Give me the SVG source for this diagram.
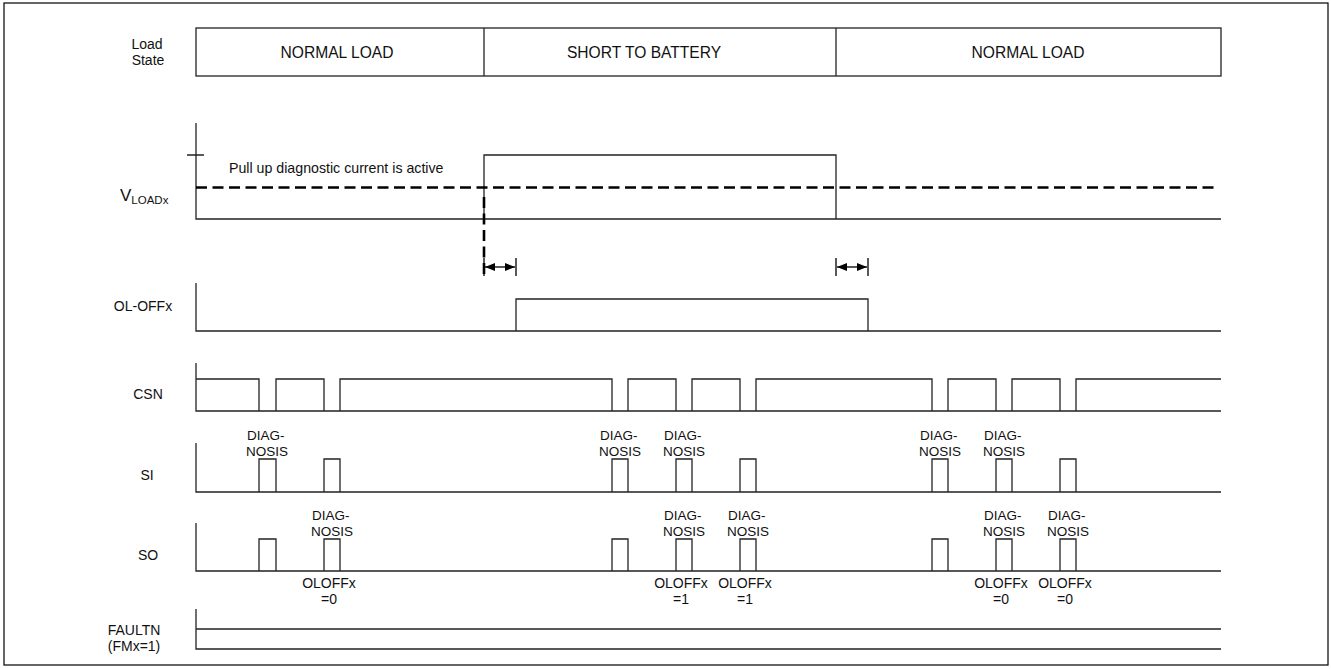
<svg xmlns="http://www.w3.org/2000/svg" width="1331" height="669" viewBox="0 0 1331 669">
<style>
text{font-family:"Liberation Sans",Arial,sans-serif;fill:#111;}
.lbl{font-size:14px;text-anchor:middle;}
.st{font-size:15.6px;text-anchor:middle;}
.sm{font-size:13.5px;}
.ol{font-size:14px;text-anchor:middle;}
.w{fill:none;stroke:#222;stroke-width:1.3;}
.dash{fill:none;stroke:#000;stroke-width:2.6;stroke-dasharray:11 5.5;}
.arr{fill:none;stroke:#000;stroke-width:1.3;}
</style>
<defs>
<marker id="ah" viewBox="0 0 10 8" refX="10" refY="4" markerWidth="10" markerHeight="8" markerUnits="userSpaceOnUse" orient="auto-start-reverse">
<path d="M0,0 L10,4 L0,8 Z" fill="#000"/>
</marker>
</defs>
<rect x="4" y="3" width="1324" height="662" fill="#fff" stroke="#000" stroke-width="1.2"/>

<g id="load-state">
<text class="lbl" x="147" y="49">Load</text>
<text class="lbl" x="148" y="65">State</text>
<rect class="w" x="196" y="28" width="1025" height="48"/>
<line class="w" x1="484" y1="28" x2="484" y2="76"/>
<line class="w" x1="836" y1="28" x2="836" y2="76"/>
<text class="st" x="337" y="58">NORMAL LOAD</text>
<text class="st" x="644" y="58">SHORT TO BATTERY</text>
<text class="st" x="1028" y="58">NORMAL LOAD</text>
</g>

<g id="vload">
<text x="120" y="201" style="font-size:17px">V<tspan style="font-size:11.5px" dy="3">LOADx</tspan></text>
<path class="w" d="M196,123 V219 H1221 M187,155 H204 M484,219 V155 H836 V219"/>
<line class="dash" x1="196" y1="187.5" x2="1217" y2="187.5"/>
<line class="dash" x1="484" y1="197" x2="484" y2="277"/>
<text x="229" y="173" style="font-size:14.2px">Pull up diagnostic current is active</text>
</g>

<g id="ol-off">
<text class="lbl" x="143" y="311">OL-OFFx</text>
<path class="w" d="M196,283 V331 H1221 M196,331 H516 V299 H868 V331"/>
</g>

<g id="csn">
<text class="lbl" x="148" y="399">CSN</text>
<path class="w" d="M196,363 V411 H1221 M196,379 H259 V411 H276 V379 H324 V411 H340 V379 H612 V411 H628 V379 H676 V411 H692 V379 H740 V411 H756 V379 H932 V411 H948 V379 H996 V411 H1012 V379 H1060 V411 H1076 V379 H1221"/>
</g>

<g id="si">
<text class="lbl" x="147" y="480">SI</text>
<path class="w" d="M196,443 V492 H1221 M259,492 V459 H276 V492 M324,492 V459 H340 V492 M612,492 V459 H628 V492 M676,492 V459 H692 V492 M740,492 V459 H756 V492 M932,492 V459 H948 V492 M996,492 V459 H1012 V492 M1060,492 V459 H1076 V492"/>
<text class="sm" x="247" y="440">DIAG-</text><text class="sm" x="246" y="456">NOSIS</text>
<text class="sm" x="600" y="440">DIAG-</text><text class="sm" x="599" y="456">NOSIS</text>
<text class="sm" x="664" y="440">DIAG-</text><text class="sm" x="663" y="456">NOSIS</text>
<text class="sm" x="920" y="440">DIAG-</text><text class="sm" x="919" y="456">NOSIS</text>
<text class="sm" x="984" y="440">DIAG-</text><text class="sm" x="983" y="456">NOSIS</text>
</g>

<g id="so">
<text class="lbl" x="148" y="560">SO</text>
<path class="w" d="M196,523 V571 H1221 M259,571 V539 H276 V571 M324,571 V539 H340 V571 M612,571 V539 H628 V571 M676,571 V539 H692 V571 M740,571 V539 H756 V571 M932,571 V539 H948 V571 M996,571 V539 H1012 V571 M1060,571 V539 H1076 V571"/>
<text class="sm" x="312" y="520">DIAG-</text><text class="sm" x="311" y="536">NOSIS</text>
<text class="sm" x="664" y="520">DIAG-</text><text class="sm" x="663" y="536">NOSIS</text>
<text class="sm" x="728" y="520">DIAG-</text><text class="sm" x="727" y="536">NOSIS</text>
<text class="sm" x="984" y="520">DIAG-</text><text class="sm" x="983" y="536">NOSIS</text>
<text class="sm" x="1048" y="520">DIAG-</text><text class="sm" x="1047" y="536">NOSIS</text>
<text class="ol" x="329" y="588">OLOFFx</text><text class="ol" x="329" y="604">=0</text>
<text class="ol" x="681" y="588">OLOFFx</text><text class="ol" x="681" y="604">=1</text>
<text class="ol" x="745" y="588">OLOFFx</text><text class="ol" x="745" y="604">=1</text>
<text class="ol" x="1001" y="588">OLOFFx</text><text class="ol" x="1001" y="604">=0</text>
<text class="ol" x="1065" y="588">OLOFFx</text><text class="ol" x="1065" y="604">=0</text>
</g>

<g id="faultn">
<text class="lbl" x="134" y="635">FAULTN</text>
<text class="lbl" x="134" y="651">(FMx=1)</text>
<path class="w" d="M196,609 V649 H1221 M196,629 H1221"/>
</g>

<g id="connectors">
<path class="arr" d="M484,258 V276 M516,258 V276 M836,258 V276 M868,258 V276"/>
<line class="arr" x1="485" y1="267" x2="515" y2="267" marker-start="url(#ah)" marker-end="url(#ah)"/>
<line class="arr" x1="837" y1="267" x2="867" y2="267" marker-start="url(#ah)" marker-end="url(#ah)"/>
</g>
</svg>
